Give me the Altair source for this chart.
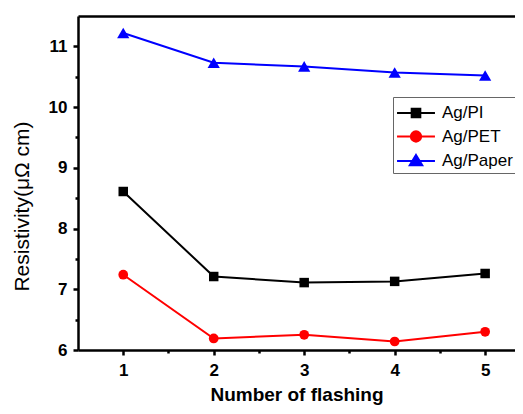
import altair as alt
import pandas as pd

flashes = [1, 2, 3, 4, 5]
series = ["Ag/PI", "Ag/PET", "Ag/Paper"]
ag_pi = [8.61, 7.21, 7.11, 7.13, 7.26]
ag_pet = [7.24, 6.19, 6.25, 6.14, 6.30]
ag_paper = [11.22, 10.73, 10.67, 10.57, 10.52]
colors = ["#000000", "#ff0000", "#0000ff"]
shapes = ["square", "circle", "triangle-up"]
marker_sizes = [90, 95, 150]
y_major = [6, 7, 8, 9, 10, 11]
y_minor = [6.5, 7.5, 8.5, 9.5, 10.5]
x_major = [1, 2, 3, 4, 5]
x_minor = [1.5, 2.5, 3.5, 4.5]

rows = []
for name, vals in zip(series, [ag_pi, ag_pet, ag_paper]):
    for x, v in zip(flashes, vals):
        rows.append({"flash": x, "res": v, "series": name})
df = pd.DataFrame(rows)

FONT = "Liberation Sans"
xs = alt.Scale(domain=[0.5, 5.33], nice=False, zero=False)
ys = alt.Scale(domain=[6, 11.5], nice=False, zero=False)
col = alt.Scale(domain=series, range=colors)

# legend symbols: a line segment with the series marker on it
legend_paths = [
    "M-1.58,0H1.58M-0.36,-0.36H0.36V0.36H-0.36Z",
    "M-1.58,0H1.58M0.43,0A0.43,0.43 0 1,1 -0.43,0A0.43,0.43 0 1,1 0.43,0Z",
    "M-1.58,0H1.58M0,-0.5L0.52,0.36L-0.52,0.36Z",
]
leg_shape = alt.Scale(domain=series, range=legend_paths)

legend = alt.Legend(
    title=None, orient="none", legendX=315, legendY=81,
    labelFont=FONT, labelFontSize=17, labelColor="black",
    strokeColor="#666666", fillColor="white", padding=3,
    symbolSize=576, symbolOffset=7, labelOffset=13, rowPadding=1.5,
    symbolOpacity=1, symbolStrokeWidth=2,
)

base = alt.Chart(df)

main_x = alt.Axis(values=x_major, orient="bottom", title="Number of flashing",
                  titleFontWeight="bold", titleFontSize=19, titlePadding=7,
                  labelPadding=7, format="d")
main_y = alt.Axis(values=y_major, orient="left", title="Resistivity(μΩ cm)",
                  titleFontWeight="normal", titleFontSize=21, titlePadding=16, titleY=190,
                  labelPadding=6, format="d")
minor_x = alt.Axis(values=x_minor, orient="bottom", labels=False, domain=False, tickSize=3, title=None)
minor_y = alt.Axis(values=y_minor, orient="left", labels=False, domain=False, tickSize=3, title=None)

layers = []
for i, (name, c, shp, sz) in enumerate(zip(series, colors, shapes, marker_sizes)):
    sub = base.transform_filter(alt.datum.series == name)
    layers.append(
        sub.mark_line(strokeWidth=2, color=c).encode(
            x=alt.X("flash:Q", scale=xs, axis=main_x if i == 0 else None),
            y=alt.Y("res:Q", scale=ys, axis=main_y if i == 0 else None),
        )
    )
    layers.append(
        sub.mark_point(filled=True, opacity=1, shape=shp, size=sz, color=c).encode(
            x=alt.X("flash:Q", scale=xs, axis=minor_x if i == 0 else None),
            y=alt.Y("res:Q", scale=ys, axis=minor_y if i == 0 else None),
        )
    )

# legend-only layer: no rows pass the filter, entries come from the explicit scale domain
legend_carrier = base.transform_filter("false").mark_point(filled=True, strokeWidth=2).encode(
    x=alt.X("flash:Q", scale=xs, axis=alt.Axis(orient="top", labels=False, ticks=False, domain=True, title=None)),
    y=alt.Y("res:Q", scale=ys, axis=None),
    color=alt.Color("series:N", scale=col, legend=legend),
    shape=alt.Shape("series:N", scale=leg_shape, legend=legend),
    stroke=alt.Stroke("series:N", scale=col, legend=legend),
)

chart = alt.layer(*layers, legend_carrier).resolve_axis(
    x="independent", y="independent"
).properties(
    width=437, height=334,
    autosize=alt.AutoSizeParams(type="none"),
    padding={"left": 70, "top": 8, "right": 0, "bottom": 56},
).configure_view(stroke=None).configure_axis(
    domainColor="black", domainWidth=2.5, tickColor="black", tickWidth=2.5, tickSize=5,
    labelFont=FONT, labelFontWeight="bold", labelFontSize=17, labelColor="black",
    titleFont=FONT, titleColor="black", grid=False,
)

chart.save("out.html", embed_options={"renderer": "svg", "actions": False})
